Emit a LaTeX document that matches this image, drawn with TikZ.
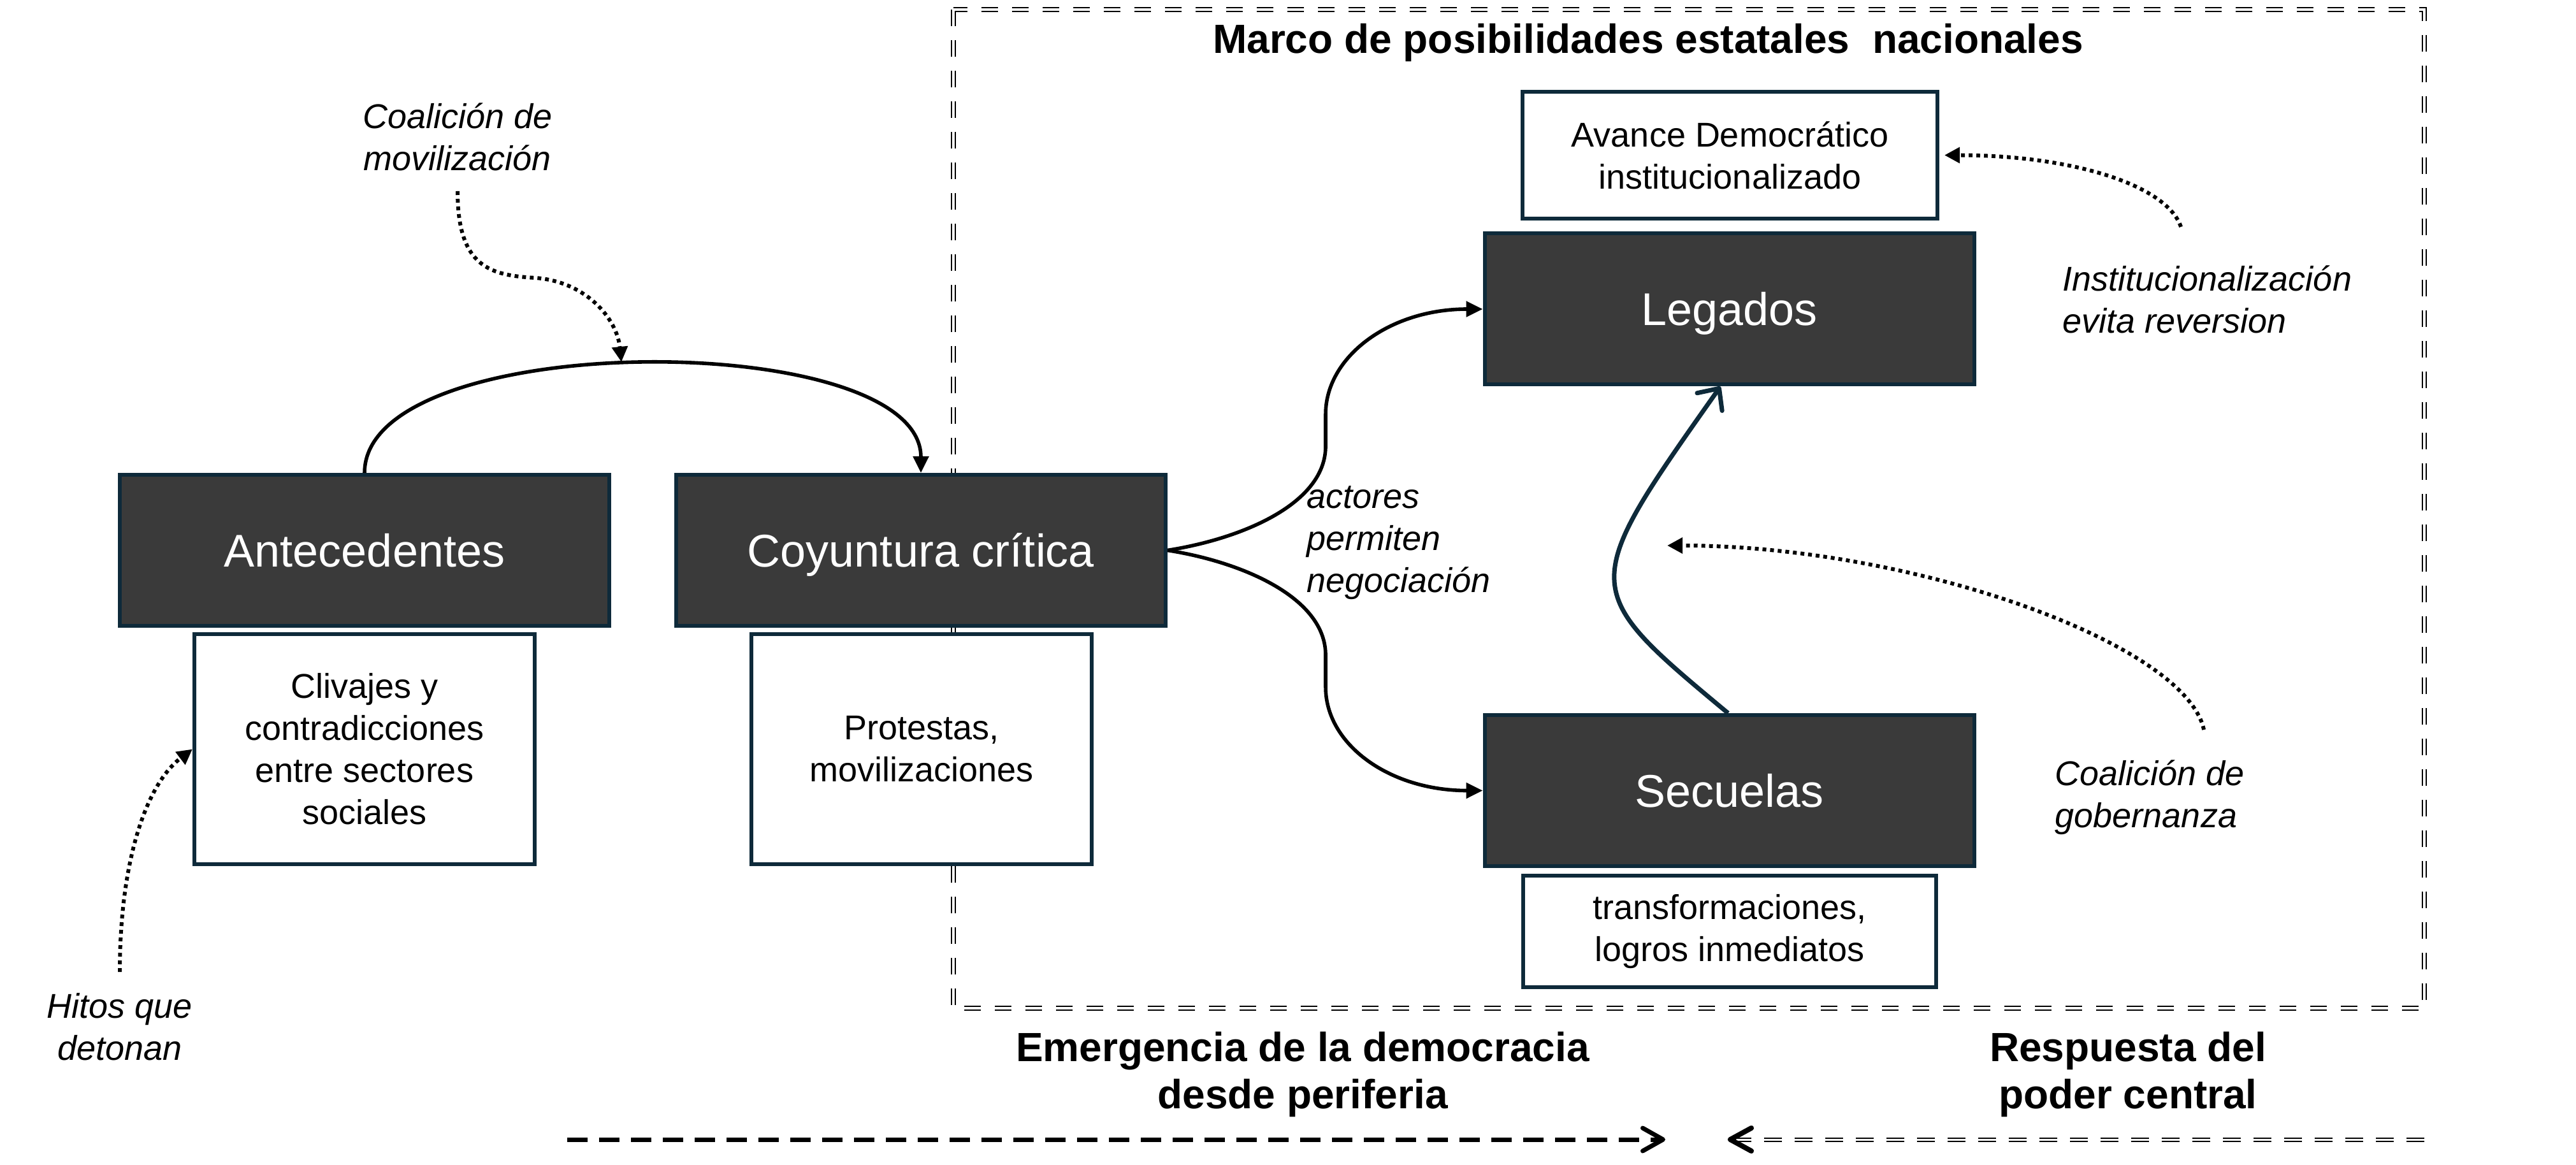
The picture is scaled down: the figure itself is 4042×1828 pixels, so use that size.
\documentclass[tikz,border=0pt]{standalone}
\usepackage{fontspec}
\setmainfont{Liberation Sans}
\usetikzlibrary{arrows.meta,calc}
\definecolor{navy}{HTML}{0E2A3A}
\definecolor{boxgray}{HTML}{3A3A3A}
\begin{document}
\begin{tikzpicture}[x=0.25pt,y=-0.25pt,
  darkbox/.style={draw=navy, line width=1.5pt, fill=boxgray, text=white,
    font=\fontsize{18}{22}\selectfont, inner sep=0pt, minimum width=192pt, minimum height=59.25pt,
    text height=12.9pt, text depth=0pt},
  lightbox/.style={draw=navy, line width=1.5pt, fill=white, text=black, align=center,
    font=\fontsize{13.5}{16.5}\selectfont, inner sep=0pt},
  lbl/.style={font=\fontsize{13.5}{16.5}\selectfont\itshape, inner sep=0pt},
  boldlbl/.style={font=\fontsize{16}{18.5}\selectfont\bfseries, align=center, inner sep=0pt},
  flow/.style={draw=black, line width=1.4pt, -{Triangle[length=6.5pt,width=6pt]}},
  navyflow/.style={draw=navy, line width=1.75pt, -{Straight Barb[round,length=6.5pt,width=12pt]}},
  dotarrow/.style={draw=black, line width=1.5pt, dash pattern=on 1.5pt off 1.5pt, -{Triangle[length=6pt,width=6pt]}},
  frame/.style={draw=black, double=white, line width=0.5pt, double distance=0.8pt, dash pattern=on 6.5pt off 5.5pt},
  thickdash/.style={draw=black, line width=1.75pt, dash pattern=on 8pt off 4.5pt, -{Straight Barb[round,length=8pt,width=9pt]}},
  dbldash/.style={draw=black, double=white, line width=0.5pt, double distance=0.75pt, dash pattern=on 7pt off 5pt},
  chev/.style={draw=black, line width=2pt, line cap=round, line join=round}
]
\useasboundingbox (0,0) rectangle (4042,1828);

% frame
\draw[frame] (1496,15) rectangle (3804,1582);
\node[boldlbl, anchor=base] (title) at (2586,84) {Marco de posibilidades estatales\ \ nacionales};

% boxes
\node[darkbox] (ante) at (572,863.5) {Antecedentes};
\node[darkbox] (coy) at (1445,863.5) {Coyuntura crítica};
\node[lightbox, minimum width=133.5pt, minimum height=90.25pt] (cliv) at (572,1175.5) {Clivajes y\\contradicciones\\entre sectores\\sociales};
\node[lightbox, minimum width=133.5pt, minimum height=90.25pt] (prot) at (1446,1175.5) {Protestas,\\movilizaciones};
\node[darkbox] (leg) at (2713.5,485) {Legados};
\node[lightbox, minimum width=162.75pt, minimum height=49.75pt] (avan) at (2714.5,243.5) {Avance Democrático\\institucionalizado};
\node[darkbox] (sec) at (2713.5,1240.5) {Secuelas};
\node[lightbox, minimum width=162pt, minimum height=43.75pt] (trans) at (2714,1461.5) {transformaciones,\\logros inmediatos};

% labels
\node[lbl, align=center] (lmov) at (718,214.5) {Coalición de\\movilización};
\node[lbl, align=center] (lhit) at (188,1611) {Hitos que\\detonan};
\node[lbl, align=left, anchor=west] (linst) at (3236,470) {Institucionalización\\evita reversion};
\node[lbl, align=left, anchor=west] (lgob) at (3224,1251.5) {Coalición de\\gobernanza};
\node[lbl, align=left, anchor=west] (lact) at (2050,851.5) {actores\\permiten\\negociación};
\node[boldlbl] (lemer) at (2044,1686) {Emergencia de la democracia\\desde periferia};
\node[boldlbl] (lresp) at (3339,1686) {Respuesta del\\poder central};

% free ends
\coordinate (movS) at (718,300);
\coordinate (movE) at (975,568);
\coordinate (hitS) at (188,1525);
\coordinate (instS) at (3422,356);
\coordinate (gobS) at (3458,1145);
\coordinate (gobE) at (2616,856);
\coordinate (emS) at (890,1788);
\coordinate (emE) at (2613,1788);
\coordinate (reS) at (3804,1788);
\coordinate (reE) at (2715,1788);

% main connectors
\draw[flow] (ante.north) .. controls (572,514) and (1445,514) .. (coy.north);
\draw[flow] (coy.east) .. controls (1950,845) and (2080,790) .. (2080,700) -- (2080,650)
  .. controls (2080,560) and (2180,485) .. (leg.west);
\draw[flow] (coy.east) .. controls (1950,882) and (2080,938) .. (2080,1028) -- (2080,1078)
  .. controls (2080,1168) and (2180,1240.5) .. (sec.west);
\draw[navyflow] ($(sec.north)+(-2,0)$) .. controls (2476,923) and (2476,923) .. ($(leg.south)+(-14,0)$);

% dotted influences
\draw[dotarrow] (movS) .. controls (718,420) and (770,432) .. (840,436)
  .. controls (920,442) and (968,500) .. (movE);
\draw[dotarrow] (hitS) .. controls (188,1350) and (230,1230) .. (cliv.west);
\draw[dotarrow, shorten >=2pt] (instS) .. controls (3400,290) and (3250,243.5) .. (avan.east);
\draw[dotarrow] (gobS) .. controls (3430,1010) and (3000,856) .. (gobE);

% bottom arrows
\draw[thickdash] (emS) -- (emE);
\draw[dbldash] (reS) -- ($(reE)+(10,0)$);
\draw[chev] ($(reE)+(33,-18)$) -- (reE) -- ($(reE)+(33,18)$);
\end{tikzpicture}
\end{document}
